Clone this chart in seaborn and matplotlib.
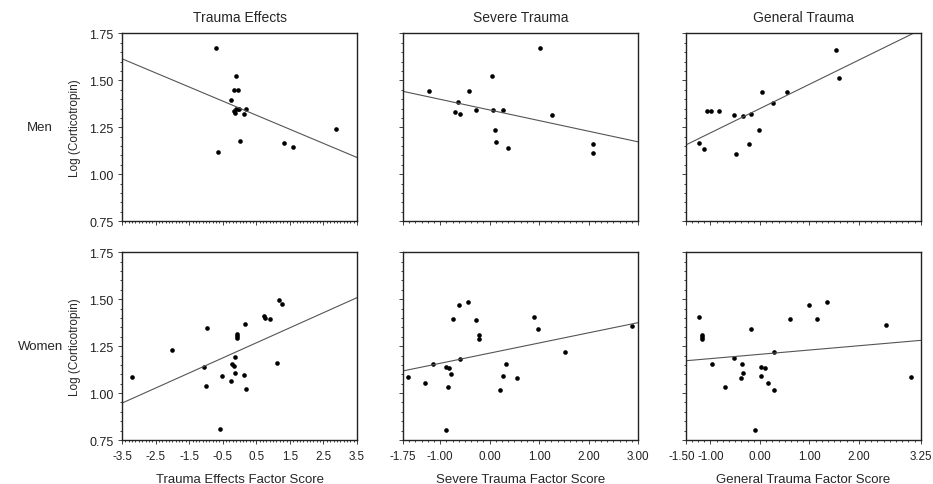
import seaborn as sns
import matplotlib.pyplot as plt
import matplotlib.transforms as mtransforms
import pandas as pd
from matplotlib.ticker import MultipleLocator

# Men - Trauma Effects
men_te_x = [-0.70, -0.64, -0.10, -0.18, -0.06, -0.24, -0.10, -0.02, -0.16, -0.14,
            -0.06, 0.19, 0.12, 0.00, 1.33, 1.59, 2.86]
men_te_y = [1.675, 1.116, 1.525, 1.448, 1.448, 1.393, 1.350, 1.350, 1.339, 1.327,
            1.345, 1.345, 1.320, 1.175, 1.166, 1.143, 1.241]
# Men - Severe Trauma
men_st_x = [-1.22, -0.70, -0.63, -0.60, -0.41, -0.27, 0.04, 0.07, 0.28, 0.10,
            0.12, 0.37, 1.01, 1.26, 2.09, 2.08]
men_st_y = [1.441, 1.329, 1.386, 1.320, 1.443, 1.343, 1.521, 1.343, 1.341, 1.236,
            1.171, 1.139, 1.670, 1.316, 1.163, 1.112]
# Men - General Trauma
men_gt_x = [-1.24, -1.14, -1.07, -0.99, -0.82, -0.53, -0.48, -0.34, -0.22, -0.18,
            -0.01, 0.05, 0.27, 0.54, 1.54, 1.59]
men_gt_y = [1.168, 1.136, 1.339, 1.339, 1.338, 1.314, 1.109, 1.311, 1.159, 1.323,
            1.234, 1.437, 1.382, 1.437, 1.664, 1.514]

# Women - Trauma Effects
wom_te_x = [-3.20, -2.01, -1.07, -0.98, -1.01, -0.59, -0.51, -0.26, -0.21, -0.17,
            -0.14, -0.13, -0.08, -0.08, -0.08, 0.13, 0.18, 0.17, 0.72, 0.77,
            0.92, 1.12, 1.17, 1.27]
wom_te_y = [1.084, 1.227, 1.141, 1.345, 1.036, 0.809, 1.093, 1.063, 1.157, 1.145,
            1.191, 1.109, 1.314, 1.302, 1.293, 1.098, 1.023, 1.366, 1.411, 1.402,
            1.396, 1.159, 1.495, 1.477]
# Women - Severe Trauma
wom_st_x = [-1.64, -1.31, -1.15, -0.89, -0.82, -0.79, -0.85, -0.89, -0.74, -0.62,
            -0.44, -0.60, -0.28, -0.22, -0.22, 0.20, 0.28, 0.33, 0.55, 0.89,
            0.97, 1.53, 2.87]
wom_st_y = [1.084, 1.055, 1.154, 1.139, 1.132, 1.104, 1.030, 0.804, 1.395, 1.470,
            1.486, 1.184, 1.391, 1.307, 1.288, 1.018, 1.093, 1.154, 1.079, 1.404,
            1.339, 1.220, 1.357]
# Women - General Trauma
wom_gt_x = [-1.24, -1.18, -1.18, -1.18, -0.97, -0.70, -0.53, -0.36, -0.34, -0.38,
            -0.18, -0.10, 0.02, 0.02, 0.11, 0.17, 0.29, 0.28, 0.60, 0.99,
            1.16, 1.35, 2.55, 3.05]
wom_gt_y = [1.404, 1.307, 1.298, 1.288, 1.154, 1.030, 1.188, 1.154, 1.105, 1.079,
            1.341, 0.805, 1.139, 1.093, 1.134, 1.055, 1.018, 1.221, 1.396, 1.471,
            1.393, 1.487, 1.362, 1.087]

col_titles = ["Trauma Effects", "Severe Trauma", "General Trauma"]
row_labels = ["Men", "Women"]
x_labels = ["Trauma Effects Factor Score", "Severe Trauma Factor Score",
            "General Trauma Factor Score"]
x_limits = [(-3.5, 3.5), (-1.75, 3.0), (-1.5, 3.25)]
x_ticks = [[-3.5, -2.5, -1.5, -0.5, 0.5, 1.5, 2.5, 3.5],
           [-1.75, -1.0, 0.0, 1.0, 2.0, 3.0],
           [-1.5, -1.0, 0.0, 1.0, 2.0, 3.25]]
x_minor = [0.1, 0.125, 0.125]
x_fmt = ["{:.1f}", "{:.2f}", "{:.2f}"]
y_ticks = [0.75, 1.00, 1.25, 1.50, 1.75]

panels = [[(men_te_x, men_te_y), (men_st_x, men_st_y), (men_gt_x, men_gt_y)],
          [(wom_te_x, wom_te_y), (wom_st_x, wom_st_y), (wom_gt_x, wom_gt_y)]]

sns.set_theme(style="ticks")
plt.rcParams['font.family'] = ['Liberation Sans', 'DejaVu Sans']
plt.rcParams['axes.unicode_minus'] = False

fig = plt.figure(figsize=(9.33, 4.85), dpi=100)
lefts = [0.1308, 0.432, 0.735]
bottoms = [0.542, 0.0907]
w, h = 0.2519, 0.387

for r in range(2):
    for c in range(3):
        ax = fig.add_axes([lefts[c], bottoms[r], w, h])
        xs, ys = panels[r][c]
        df = pd.DataFrame({"x": xs, "y": ys})
        ax.set_xlim(*x_limits[c])
        ax.set_ylim(0.75, 1.75)
        sns.regplot(data=df, x="x", y="y", ax=ax, ci=None, truncate=False,
                    scatter_kws=dict(s=11, color="black", alpha=1, linewidths=0),
                    line_kws=dict(color="#555555", lw=0.8))
        ax.set_xlim(*x_limits[c])
        ax.set_ylim(0.75, 1.75)
        ax.set_yticks(y_ticks)
        ax.xaxis.set_minor_locator(MultipleLocator(x_minor[c]))
        ax.yaxis.set_minor_locator(MultipleLocator(0.05))
        ax.tick_params(which="both", direction="out", width=0.6,
                       labelsize=9, pad=3, colors="#222222")
        ax.tick_params(axis="x", labelsize=8.4, pad=4)
        ax.tick_params(which="major", length=3)
        ax.tick_params(which="minor", length=1.5)
        for sp in ax.spines.values():
            sp.set_linewidth(1.0)
            sp.set_color("#222222")
        ax.set_ylabel("")
        ax.set_xlabel("")
        if c == 0:
            ax.set_yticklabels([f"{v:.2f}" for v in y_ticks])
            ax.set_ylabel("Log (Corticotropin)", fontsize=8.5, labelpad=6)
            fig.text(0.043, bottoms[r] + h / 2, row_labels[r], fontsize=9.5,
                     ha="center", va="center")
        else:
            ax.set_yticklabels([])
        ax.set_xticks(x_ticks[c])
        if r == 1:
            labels = ax.set_xticklabels([x_fmt[c].format(v) for v in x_ticks[c]])
            if c == 2:
                # crowded first label nudged left a little
                shift = mtransforms.ScaledTranslation(-3 / 72, 0, fig.dpi_scale_trans)
                labels[0].set_transform(labels[0].get_transform() + shift)
            ax.set_xlabel(x_labels[c], fontsize=9.5, labelpad=8)
        else:
            ax.set_xticklabels([])
            ax.set_title(col_titles[c], fontsize=10, pad=9)

fig.savefig("out.png", dpi=100)
